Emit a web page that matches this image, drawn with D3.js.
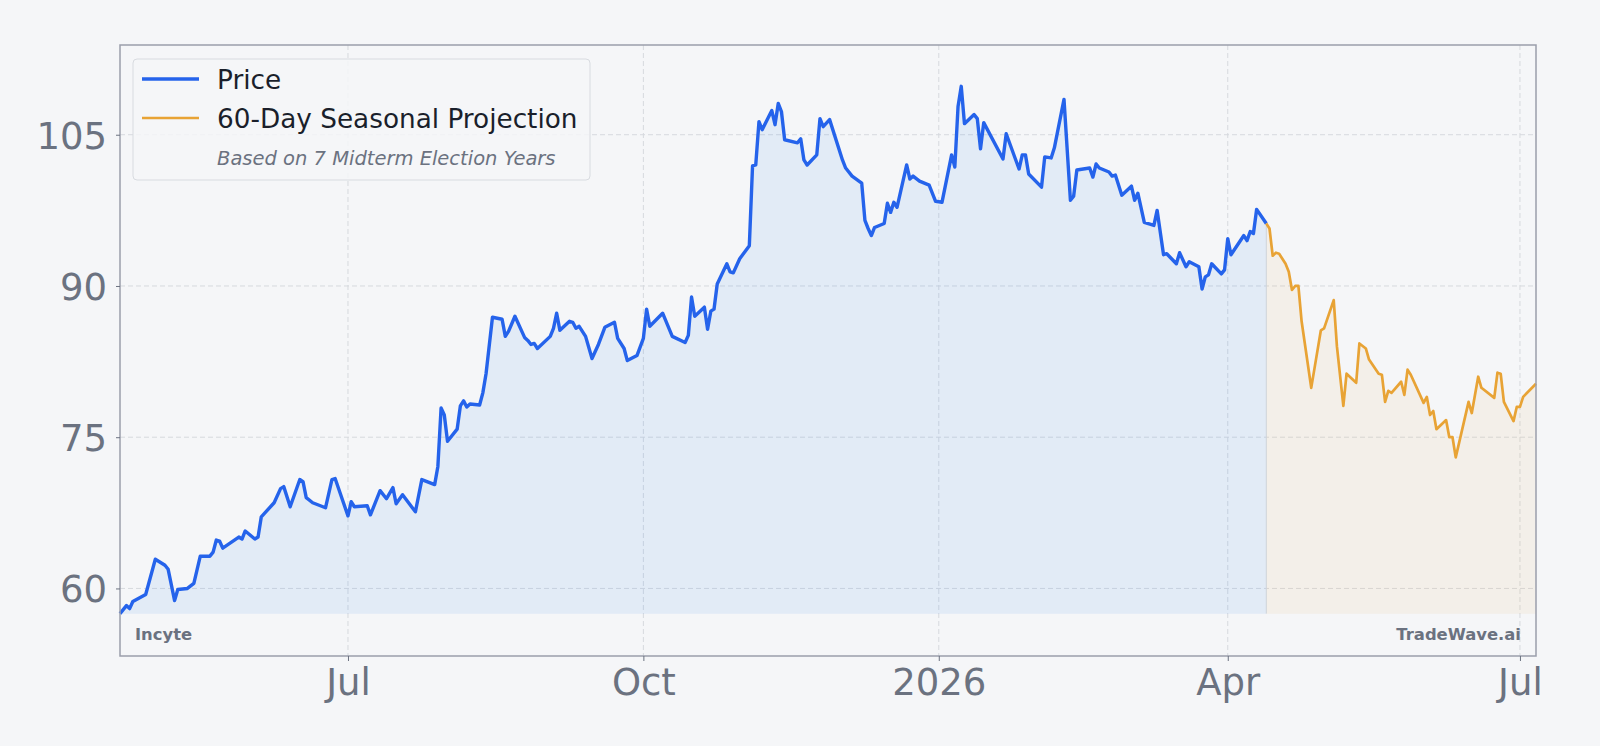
<!DOCTYPE html>
<html>
<head>
<meta charset="utf-8">
<script src="https://cdn.jsdelivr.net/npm/d3@7"></script>
<style>
body { margin: 0; background: #f5f6f8; }
svg { display: block; font-family: "DejaVu Sans", sans-serif; }
</style>
</head>
<body>
<script>
var priceDates = ["2025-04-21","2025-04-23","2025-04-24","2025-04-25","2025-04-29","2025-05-02","2025-05-05","2025-05-06","2025-05-08","2025-05-09",
    "2025-05-12","2025-05-14","2025-05-16","2025-05-19","2025-05-20","2025-05-21","2025-05-22","2025-05-23","2025-05-28","2025-05-29",
    "2025-05-30","2025-06-02","2025-06-03","2025-06-04","2025-06-08","2025-06-10","2025-06-11","2025-06-13","2025-06-16","2025-06-17",
    "2025-06-18","2025-06-20","2025-06-24","2025-06-26","2025-06-27","2025-07-01","2025-07-02","2025-07-03","2025-07-07","2025-07-08",
    "2025-07-11","2025-07-13","2025-07-15","2025-07-16","2025-07-18","2025-07-22","2025-07-24","2025-07-28","2025-07-29","2025-07-30",
    "2025-07-31","2025-08-01","2025-08-04","2025-08-05","2025-08-06","2025-08-07","2025-08-08","2025-08-11","2025-08-12","2025-08-13",
    "2025-08-15","2025-08-18","2025-08-19","2025-08-20","2025-08-22","2025-08-25","2025-08-26","2025-08-27","2025-08-28","2025-08-29",
    "2025-09-02","2025-09-03","2025-09-04","2025-09-05","2025-09-08","2025-09-09","2025-09-10","2025-09-11","2025-09-13","2025-09-15",
    "2025-09-17","2025-09-19","2025-09-22","2025-09-23","2025-09-25","2025-09-26","2025-09-29","2025-10-01","2025-10-02","2025-10-03",
    "2025-10-07","2025-10-10","2025-10-14","2025-10-15","2025-10-16","2025-10-17","2025-10-20","2025-10-21","2025-10-22","2025-10-23",
    "2025-10-24","2025-10-27","2025-10-28","2025-10-29","2025-10-31","2025-11-03","2025-11-04","2025-11-05","2025-11-06","2025-11-07",
    "2025-11-10","2025-11-11","2025-11-12","2025-11-13","2025-11-14","2025-11-18","2025-11-19","2025-11-20","2025-11-21","2025-11-24",
    "2025-11-25","2025-11-26","2025-11-28","2025-12-02","2025-12-03","2025-12-05","2025-12-08","2025-12-09","2025-12-10","2025-12-11",
    "2025-12-12","2025-12-15","2025-12-16","2025-12-17","2025-12-18","2025-12-19","2025-12-22","2025-12-23","2025-12-24","2025-12-26",
    "2025-12-29","2025-12-31","2026-01-02","2026-01-05","2026-01-06","2026-01-07","2026-01-08","2026-01-09","2026-01-12","2026-01-13",
    "2026-01-14","2026-01-15","2026-01-21","2026-01-22","2026-01-26","2026-01-27","2026-01-28","2026-01-29","2026-02-02","2026-02-03",
    "2026-02-05","2026-02-06","2026-02-09","2026-02-11","2026-02-12","2026-02-13","2026-02-17","2026-02-18","2026-02-19","2026-02-20",
    "2026-02-23","2026-02-24","2026-02-25","2026-02-27","2026-03-02","2026-03-03","2026-03-04","2026-03-06","2026-03-09","2026-03-10",
    "2026-03-12","2026-03-13","2026-03-16","2026-03-17","2026-03-19","2026-03-20","2026-03-23","2026-03-24","2026-03-25","2026-03-26",
    "2026-03-27","2026-03-30","2026-03-31","2026-04-01","2026-04-02","2026-04-06","2026-04-07","2026-04-08","2026-04-09","2026-04-10",
    "2026-04-13"];
var priceValues = [57.5,58.3,58.0,58.7,59.4,62.9,62.3,61.9,58.8,59.9,
    60.0,60.5,63.2,63.2,63.6,64.8,64.7,64.0,65.1,64.9,
    65.7,64.9,65.1,67.1,68.5,69.9,70.1,68.1,70.8,70.6,
    69.0,68.5,68.0,70.8,70.9,67.2,68.6,68.1,68.2,67.3,
    69.7,68.9,70.0,68.4,69.3,67.6,70.8,70.3,72.1,77.9,
    77.2,74.6,75.8,78.1,78.6,78.0,78.3,78.2,79.4,81.3,
    86.9,86.7,85.0,85.5,87.0,84.9,84.6,84.2,84.3,83.8,
    85.0,85.8,87.3,85.6,86.5,86.4,85.8,86.0,85.0,82.8,
    84.2,85.9,86.4,84.8,83.8,82.6,83.1,84.8,87.7,86.0,
    87.3,85.0,84.4,85.1,88.9,87.0,87.9,85.7,87.5,87.7,
    90.2,92.2,91.4,91.3,92.7,94.0,101.9,102.0,106.3,105.5,
    107.4,106.0,108.1,107.3,104.5,104.2,104.6,102.5,102.0,103.0,
    106.6,105.8,106.5,102.5,101.7,100.9,100.2,96.5,95.7,95.0,
    95.8,96.2,98.2,97.3,98.3,97.8,102.0,100.6,100.9,100.4,
    100.0,98.4,98.3,103.0,101.8,107.8,109.8,106.1,107.0,106.6,
    103.6,106.2,102.6,105.1,101.6,103.0,103.0,101.1,99.8,102.8,
    102.7,103.7,108.5,98.5,98.9,101.5,101.7,100.8,102.1,101.7,
    101.3,100.9,101.0,99.0,99.9,98.5,99.2,96.3,96.0,97.5,
    93.1,93.2,92.2,93.3,91.9,92.4,91.9,89.7,90.9,91.1,
    92.2,91.2,91.6,94.7,93.1,95.0,94.5,95.4,95.2,97.6,
    96.2];
var projectionDates = ["2026-04-13","2026-04-14","2026-04-15","2026-04-16","2026-04-17","2026-04-19","2026-04-20","2026-04-21","2026-04-22","2026-04-23",
    "2026-04-24","2026-04-27","2026-04-28","2026-04-30","2026-05-01","2026-05-04","2026-05-05","2026-05-07","2026-05-08","2026-05-11",
    "2026-05-12","2026-05-14","2026-05-15","2026-05-18","2026-05-19","2026-05-20","2026-05-21","2026-05-22","2026-05-25","2026-05-26",
    "2026-05-27","2026-05-28","2026-06-01","2026-06-02","2026-06-03","2026-06-04","2026-06-05","2026-06-08","2026-06-09","2026-06-10",
    "2026-06-11","2026-06-15","2026-06-16","2026-06-18","2026-06-19","2026-06-23","2026-06-24","2026-06-25","2026-06-26","2026-06-29",
    "2026-06-30","2026-07-01","2026-07-02","2026-07-06"];
var projectionValues = [96.2,95.7,93.0,93.3,93.2,92.2,91.4,89.6,90.0,90.0,
    86.5,79.9,81.8,85.6,85.8,88.6,84.0,78.1,81.3,80.4,
    84.3,83.8,82.7,81.3,81.2,78.5,79.6,79.4,80.5,79.2,
    81.7,81.2,78.4,79.0,77.2,77.6,75.8,76.7,75.0,75.0,
    73.0,78.5,77.4,81.0,79.9,78.9,81.4,81.3,78.5,76.6,
    78.0,78.0,79.0,80.3];
var yTicks = [60, 75, 90, 105];
var xTickDates = ["2025-07-01", "2025-10-01", "2026-01-01", "2026-04-01", "2026-07-01"];
var xTickLabels = ["Jul", "Oct", "2026", "Apr", "Jul"];

drawChart();

function drawChart() {
    var width = 1600;
    var height = 746;
    var margin = { top: 45, right: 64, bottom: 90, left: 120 };
    var plotW = width - margin.left - margin.right;
    var plotH = height - margin.top - margin.bottom;
    var parse = d3.timeParse("%Y-%m-%d");

    var price = priceDates.map((d, i) => ({ date: parse(d), value: priceValues[i] }));
    var projection = projectionDates.map((d, i) => ({ date: parse(d), value: projectionValues[i] }));
    var baseline = d3.min(priceValues);

    var svg = d3.select("body").append("svg")
        .attr("width", width)
        .attr("height", height);
    svg.append("rect").attr("width", width).attr("height", height).attr("fill", "#f5f6f8");

    var g = svg.append("g").attr("transform", "translate(" + margin.left + "," + margin.top + ")");

    var x = d3.scaleTime()
        .domain([price[0].date, projection[projection.length - 1].date])
        .range([0, plotW]);
    var y = d3.scaleLinear()
        .domain([53.3, 113.9])
        .range([plotH, 0]);

    // grid
    g.append("g").selectAll("line").data(yTicks).join("line")
        .attr("x1", 0).attr("x2", plotW)
        .attr("y1", d => y(d)).attr("y2", d => y(d))
        .attr("stroke", "#d6d9de").attr("stroke-width", 1).attr("stroke-dasharray", "5,3");
    g.append("g").selectAll("line").data(xTickDates).join("line")
        .attr("x1", d => x(parse(d))).attr("x2", d => x(parse(d)))
        .attr("y1", 0).attr("y2", plotH)
        .attr("stroke", "#d6d9de").attr("stroke-width", 1).attr("stroke-dasharray", "5,3");

    var area = d3.area()
        .x(d => x(d.date))
        .y0(y(baseline))
        .y1(d => y(d.value));
    var line = d3.line()
        .x(d => x(d.date))
        .y(d => y(d.value));

    g.append("path").datum(price)
        .attr("fill", "rgba(56,136,236,0.1)")
        .attr("d", area);
    g.append("path").datum(projection)
        .attr("fill", "rgba(232,163,58,0.08)")
        .attr("d", area);
    var split = x(projection[0].date);
    g.append("line")
        .attr("x1", split).attr("x2", split)
        .attr("y1", y(projection[0].value)).attr("y2", y(baseline))
        .attr("stroke", "#cfd3d9").attr("stroke-width", 1);

    g.append("path").datum(price)
        .attr("fill", "none")
        .attr("stroke", "#2563eb")
        .attr("stroke-width", 3.4)
        .attr("stroke-linejoin", "round")
        .attr("d", line);
    g.append("path").datum(projection)
        .attr("fill", "none")
        .attr("stroke", "#e8a335")
        .attr("stroke-width", 2.7)
        .attr("stroke-linejoin", "round")
        .attr("d", line);

    // frame
    g.append("rect")
        .attr("width", plotW).attr("height", plotH)
        .attr("fill", "none").attr("stroke", "#9a9eab").attr("stroke-width", 1.5);

    // y axis
    var yAxis = g.append("g")
        .call(d3.axisLeft(y).tickValues(yTicks).tickSize(4).tickPadding(9));
    // x axis
    var xAxis = g.append("g")
        .attr("transform", "translate(0," + plotH + ")")
        .call(d3.axisBottom(x).tickValues(xTickDates.map(parse)).tickSize(5).tickPadding(8)
            .tickFormat((d, i) => xTickLabels[i]));
    for (var ax of [yAxis, xAxis]) {
        ax.select(".domain").remove();
        ax.selectAll(".tick line").attr("stroke", "#6b7280");
        ax.selectAll(".tick text")
            .attr("fill", "#6b7280")
            .style("font-size", "37px")
            .style("font-family", "DejaVu Sans");
    }
    yAxis.selectAll(".tick text").attr("dy", "0.36em");

    // watermarks
    g.append("text").attr("x", 15).attr("y", plotH - 16)
        .attr("fill", "#6b7280").style("font-size", "16.4px").style("font-weight", "bold")
        .text("Incyte");
    g.append("text").attr("x", plotW - 15).attr("y", plotH - 16)
        .attr("text-anchor", "end")
        .attr("fill", "#6b7280").style("font-size", "16.4px").style("font-weight", "bold")
        .text("TradeWave.ai");

    // legend
    var legend = g.append("g").attr("transform", "translate(13,14)");
    legend.append("rect")
        .attr("width", 457).attr("height", 121).attr("rx", 4)
        .attr("fill", "rgba(245,246,248,0.85)")
        .attr("stroke", "#d8dbe0").attr("stroke-width", 1);
    legend.append("line").attr("x1", 9).attr("x2", 66).attr("y1", 20).attr("y2", 20)
        .attr("stroke", "#2563eb").attr("stroke-width", 3.4);
    legend.append("line").attr("x1", 9).attr("x2", 66).attr("y1", 59).attr("y2", 59)
        .attr("stroke", "#e8a335").attr("stroke-width", 2.7);
    legend.append("text").attr("x", 84).attr("y", 30)
        .attr("fill", "#1a1f2b").style("font-size", "26.3px").text("Price");
    legend.append("text").attr("x", 84).attr("y", 69)
        .attr("fill", "#1a1f2b").style("font-size", "26.3px").text("60-Day Seasonal Projection");
    legend.append("text").attr("x", 84).attr("y", 106)
        .attr("fill", "#6b7280").style("font-size", "19.5px").style("font-style", "italic")
        .text("Based on 7 Midterm Election Years");
}
</script>
</body>
</html>
